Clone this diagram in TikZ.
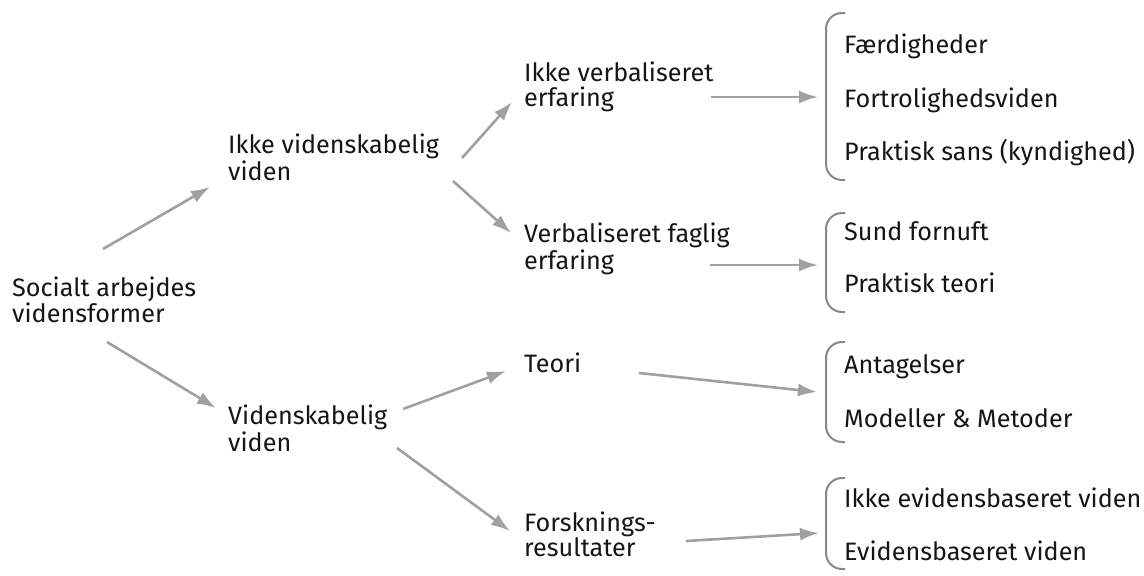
\documentclass[tikz,border=0pt]{standalone}
\usepackage{fontspec}
\setmainfont{Fira Sans}
\usetikzlibrary{arrows.meta}
\definecolor{arrgray}{HTML}{A0A0A0}
\definecolor{bracegray}{HTML}{888888}
\definecolor{txt}{HTML}{151515}
\begin{document}
\begin{tikzpicture}[x=1pt,y=-1pt,
  lbl/.style={anchor=base west,inner sep=0pt,align=left,text=txt,
    font=\fontsize{25.2}{24.5}\selectfont},
  arr/.style={draw=arrgray,line width=2.6pt,-{Latex[length=19pt,width=13pt]}},
  brc/.style={draw=bracegray,line width=2pt,rounded corners=16pt}]
\useasboundingbox (0,0) rectangle (1144,576);
% main nodes
\node[lbl] (soc)  at (12,322)  {Socialt arbejdes\\vidensformer};
\node[lbl] (ikv)  at (228,180) {Ikke videnskabelig\\viden};
\node[lbl] (vid)  at (228,451) {Videnskabelig\\viden};
\node[lbl] (ivr)  at (524,106) {Ikke verbaliseret\\erfaring};
\node[lbl] (vfe)  at (524,269) {Verbaliseret faglig\\erfaring};
\node[lbl] (teo)  at (524,372) {Teori};
\node[lbl] (fors) at (524,556) {Forsknings-\\resultater};
% item nodes
\node[lbl] (f1) at (844,53)  {Færdigheder};
\node[lbl] (f2) at (844,107) {Fortrolighedsviden};
\node[lbl] (f3) at (844,160) {Praktisk sans (kyndighed)};
\node[lbl] (s1) at (844,240) {Sund fornuft};
\node[lbl] (s2) at (844,292) {Praktisk teori};
\node[lbl] (t1) at (844,373) {Antagelser};
\node[lbl] (t2) at (844,427) {Modeller \& Metoder};
\node[lbl] (e1) at (844,507) {Ikke evidensbaseret viden};
\node[lbl] (e2) at (844,560) {Evidensbaseret viden};
% braces
\draw[brc] (845,13) -- (826,13) -- (826,180) -- (845,180);
\draw[brc] (845,213) -- (826,213) -- (826,312) -- (845,312);
\draw[brc] (845,342) -- (826,342) -- (826,442) -- (845,442);
\draw[brc] (845,478) -- (826,478) -- (826,569) -- (845,569);
\coordinate (b1) at (826,97);
\coordinate (b2) at (826,265);
\coordinate (b3) at (826,392);
\coordinate (b4) at (826,533);
% arrows
\draw[arr] ([shift={(91,-73)}]soc.base west) -- ([shift={(-18,7)}]ikv.base west);
\draw[arr] ([shift={(95,20)}]soc.base west) -- ([shift={(-12,-43)}]vid.base west);
\draw[arr] ([shift={(234,-22)}]ikv.base west) -- ([shift={(-12,-4)}]ivr.base west);
\draw[arr] ([shift={(225,1)}]ikv.base west) -- ([shift={(-13,-36)}]vfe.base west);
\draw[arr] ([shift={(187,-9)}]ivr.base west) -- ([shift={(-8,0)}]b1);
\draw[arr] ([shift={(186,-4)}]vfe.base west) -- ([shift={(-8,0)}]b2);
\draw[arr] ([shift={(175,-42)}]vid.base west) -- ([shift={(-18,-1)}]teo.base west);
\draw[arr] ([shift={(169,-3)}]vid.base west) -- ([shift={(-14,-25)}]fors.base west);
\draw[arr] ([shift={(115,1)}]teo.base west) -- ([shift={(-9,0)}]b3);
\draw[arr] ([shift={(162,-15)}]fors.base west) -- ([shift={(-7,0)}]b4);
\end{tikzpicture}
\end{document}
